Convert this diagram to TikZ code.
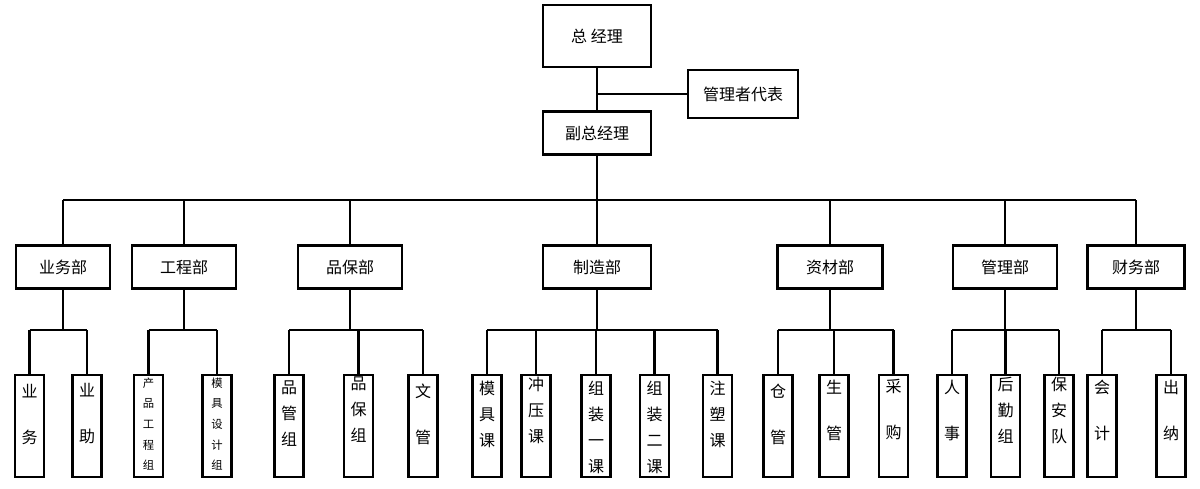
\documentclass[tikz,border=0pt]{standalone}
\usepackage{fontspec}
\setmainfont{Noto Sans CJK SC}
\begin{document}
\begin{tikzpicture}[x=0.75pt,y=-0.75pt,
  box/.style={draw,line width=2pt,inner sep=0pt,font=\fontsize{12pt}{14pt}\selectfont},
  dept/.style={box,minimum height=32.25pt},
  kid/.style={draw,line width=2pt,inner sep=0pt,minimum width=21.75pt,minimum height=76.5pt},
  vt/.style={align=center,inner sep=0pt,font=\fontsize{12pt}{34.5pt}\selectfont},
  vt3/.style={align=center,inner sep=0pt,font=\fontsize{12pt}{19.5pt}\selectfont},
  vt5/.style={align=center,inner sep=0pt,font=\fontsize{8.5pt}{15.5pt}\selectfont},
  ln/.style={line width=2pt}]
\useasboundingbox (0,0) rectangle (1200,489);
\node[box,minimum width=81pt,minimum height=46.5pt] (gm) at (597,36) {总 经理};
\node[box,minimum width=82.5pt,minimum height=36pt] (rep) at (743,94) {管理者代表};
\node[box,minimum width=81pt,minimum height=32.25pt] (vgm) at (597,133) {副总经理};
\draw[ln] (gm.south) -- (vgm.north);
\coordinate (rj) at (597,94);
\draw[ln] (rj) -- (rep.west);
% departments
\node[dept,minimum width=70.5pt] (d1) at (63,267) {业务部};
\node[dept,minimum width=78pt] (d2) at (184,267) {工程部};
\node[dept,minimum width=78pt] (d3) at (350,267) {品保部};
\node[dept,minimum width=81pt] (d4) at (597,267) {制造部};
\node[dept,minimum width=78.75pt] (d5) at (830,267) {资材部};
\node[dept,minimum width=78pt] (d6) at (1005,267) {管理部};
\node[dept,minimum width=72.75pt] (d7) at (1136,267) {财务部};
\coordinate (bus) at (0,200);
\draw[ln] (vgm.south) -- (vgm.south |- bus);
\draw[ln] (d1.north |- bus) -- (d7.north |- bus);
\foreach \d in {d1,d2,d3,d4,d5,d6,d7} \draw[ln] (\d.north |- bus) -- (\d.north);
% children
\foreach \n/\x in {c1/29.5,c2/87,c3/148.5,c4/217,c5/289,c6/358.5,c7/423,c8/487,c9/536,c10/596,c11/654.5,c12/717.5,c13/778,c14/834,c15/893.5,c16/952,c17/1005.5,c18/1059,c19/1102,c20/1171}
  \node[kid] (\n) at (\x,426) {};
\node[vt] (t1) at (29.5,414) {业\\务};
\node[vt] (t2) at (87,414) {业\\助};
\node[vt5] (t3) at (148.5,424) {产\\品\\工\\程\\组};
\node[vt5] (t4) at (217,424) {模\\具\\设\\计\\组};
\node[vt3] (t5) at (289,414) {品\\管\\组};
\node[vt3] (t6) at (358.5,410) {品\\保\\组};
\node[vt] (t7) at (423,414) {文\\管};
\node[vt3] (t8) at (487,414) {模\\具\\课};
\node[vt3] (t9) at (536,410) {冲\\压\\课};
\node[vt3] (t10) at (596,427) {组\\装\\一\\课};
\node[vt3] (t11) at (654.5,427) {组\\装\\二\\课};
\node[vt3] (t12) at (717.5,414) {注\\塑\\课};
\node[vt] (t13) at (778,414) {仓\\管};
\node[vt] (t14) at (834,410) {生\\管};
\node[vt] (t15) at (893.5,410) {采\\购};
\node[vt] (t16) at (952,410) {人\\事};
\node[vt3] (t17) at (1005.5,410) {后\\勤\\组};
\node[vt3] (t18) at (1059,410) {保\\安\\队};
\node[vt] (t19) at (1102,410) {会\\计};
\node[vt] (t20) at (1171,410) {出\\纳};
\coordinate (cb) at (0,330);
\foreach \d/\a/\b/\list in {d1/c1/c2/{c1,c2},d2/c3/c4/{c3,c4},d3/c5/c7/{c5,c6,c7},d4/c8/c12/{c8,c9,c10,c11,c12},d5/c13/c15/{c13,c14,c15},d6/c16/c18/{c16,c17,c18},d7/c19/c20/{c19,c20}}{
  \draw[ln] (\d.south) -- (\d.south |- cb);
  \draw[ln] (\a.north |- cb) -- (\b.north |- cb);
  \foreach \c in \list \draw[ln] (\c.north |- cb) -- (\c.north);
}
\end{tikzpicture}
\end{document}
